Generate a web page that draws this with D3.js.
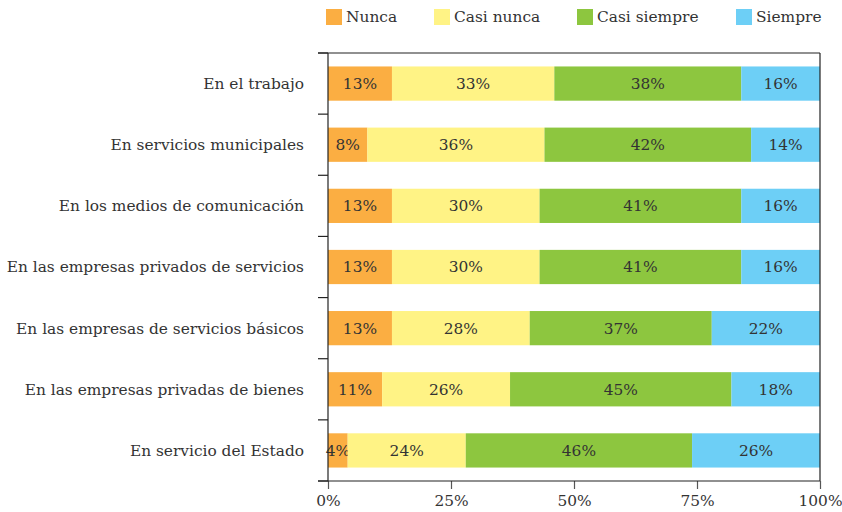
<!DOCTYPE html>
<html>
<head>
<meta charset="utf-8">
<script src="https://cdn.jsdelivr.net/npm/d3@7"></script>
<style>
  body { margin: 0; background: #fff; }
  text { font-family: "DejaVu Serif", serif; fill: #333; }
</style>
</head>
<body>
<svg id="chart" width="842" height="512"></svg>
<script>
// categories, top to bottom
const categories = [
  'En el trabajo',
  'En servicios municipales',
  'En los medios de comunicación',
  'En las empresas privados de servicios',
  'En las empresas de servicios básicos',
  'En las empresas privadas de bienes',
  'En servicio del Estado'
];
const seriesNames = ['Nunca', 'Casi nunca', 'Casi siempre', 'Siempre'];
const nunca = [13, 8, 13, 13, 13, 11, 4];
const casiNunca = [33, 36, 30, 30, 28, 26, 24];
const casiSiempre = [38, 42, 41, 41, 37, 45, 46];
const siempre = [16, 14, 16, 16, 22, 18, 26];
const xTicks = [0, 25, 50, 75, 100];

const colors = ['#fbae42', '#fff385', '#8dc63f', '#6dcff6'];
const fontSize = 15.4;

const svg = d3.select('#chart');
const margin = { top: 53, right: 22, bottom: 31, left: 328 };
const width = 842 - margin.left - margin.right;
const height = 512 - margin.top - margin.bottom;

const g = svg.append('g').attr('transform', `translate(${margin.left}, ${margin.top})`);

const x = d3.scaleLinear().domain([0, 100]).range([0, width]);
const y = d3.scaleBand().domain(categories).range([0, height]).paddingInner(0.44).paddingOuter(0.22);

// stack the series
const rows = categories.map((c, i) => ({
  cat: c, Nunca: nunca[i], 'Casi nunca': casiNunca[i], 'Casi siempre': casiSiempre[i], Siempre: siempre[i]
}));
const stacked = d3.stack().keys(seriesNames)(rows);

const layer = g.selectAll('g.layer')
  .data(stacked)
  .join('g')
  .attr('class', 'layer')
  .attr('fill', (d, i) => colors[i]);

layer.selectAll('rect')
  .data((d) => d)
  .join('rect')
  .attr('x', (d) => x(d[0]))
  .attr('y', (d) => y(d.data.cat))
  .attr('width', (d) => x(d[1]) - x(d[0]))
  .attr('height', y.bandwidth());

layer.selectAll('text')
  .data((d) => d)
  .join('text')
  .attr('x', (d) => (x(d[0]) + x(d[1])) / 2)
  .attr('y', (d) => y(d.data.cat) + y.bandwidth() / 2)
  .attr('dy', '0.35em')
  .attr('text-anchor', 'middle')
  .attr('font-size', fontSize)
  .text((d) => `${d[1] - d[0]}%`);

// frame: top and right lines
g.append('line').attr('x1', -10).attr('x2', width).attr('y1', 0).attr('y2', 0).attr('stroke', '#222').attr('stroke-width', 1.2);
g.append('line').attr('x1', width).attr('x2', width).attr('y1', 0).attr('y2', height).attr('stroke', '#222').attr('stroke-width', 1.2);

// left axis with ticks at band boundaries
const bounds = d3.range(categories.length + 1).map((i) => i * (height / categories.length));
g.append('line').attr('x1', 0).attr('x2', 0).attr('y1', 0).attr('y2', height).attr('stroke', '#222').attr('stroke-width', 1.2);
g.selectAll('line.ytick')
  .data(bounds)
  .join('line')
  .attr('class', 'ytick')
  .attr('x1', -10).attr('x2', 0)
  .attr('y1', (d) => d).attr('y2', (d) => d)
  .attr('stroke', '#222').attr('stroke-width', 1.2);

// category labels
g.selectAll('text.cat')
  .data(categories)
  .join('text')
  .attr('class', 'cat')
  .attr('x', -24)
  .attr('y', (d) => y(d) + y.bandwidth() / 2)
  .attr('dy', '0.35em')
  .attr('text-anchor', 'end')
  .attr('font-size', fontSize)
  .text((d) => d);

// bottom axis
const xAxis = g.append('g')
  .attr('transform', `translate(0, ${height})`)
  .call(d3.axisBottom(x).tickValues(xTicks).tickSize(8).tickPadding(6).tickFormat((d) => `${d}%`));
xAxis.select('.domain').remove();
xAxis.append('line').attr('x1', -10).attr('x2', width).attr('stroke', '#222').attr('stroke-width', 1.2);
xAxis.selectAll('.tick line').attr('stroke', '#555').attr('stroke-width', 1.2);
xAxis.selectAll('.tick text').attr('font-size', fontSize).attr('font-family', '"DejaVu Serif", serif').attr('fill', '#333');

// legend
const legendX = [326, 434, 577, 736];
const legend = svg.selectAll('g.legend')
  .data(seriesNames)
  .join('g')
  .attr('class', 'legend')
  .attr('transform', (d, i) => `translate(${legendX[i]}, 9)`);
legend.append('rect').attr('width', 16).attr('height', 16).attr('fill', (d, i) => colors[i]);
legend.append('text').attr('x', 20).attr('y', 8).attr('dy', '0.35em').attr('font-size', fontSize).text((d) => d);
</script>
</body>
</html>
